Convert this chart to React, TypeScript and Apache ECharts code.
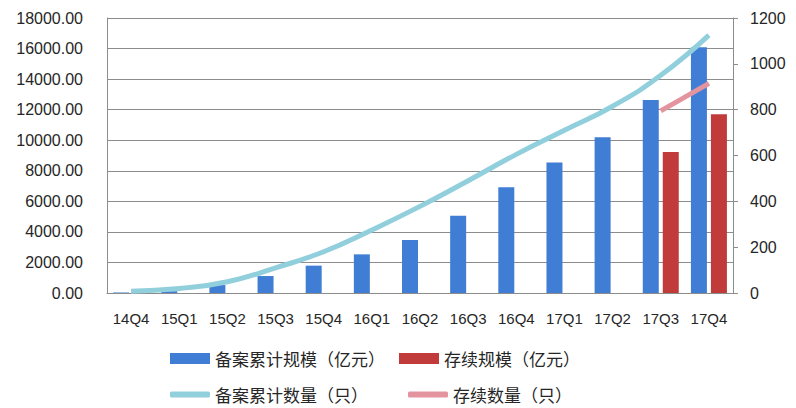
import React, { useEffect, useRef } from "react";
import * as echarts from "echarts";

const categories = ["14Q4", "15Q1", "15Q2", "15Q3", "15Q4", "16Q1", "16Q2", "16Q3", "16Q4", "17Q1", "17Q2", "17Q3", "17Q4"];
const filedScale = [30, 120, 520, 1110, 1790, 2530, 3470, 5060, 6920, 8550, 10190, 12630, 16080];
const activeScale = [null, null, null, null, null, null, null, null, null, null, null, 9230, 11700];
const filedCount = [8, 20, 49, 110, 180, 275, 378, 490, 605, 710, 815, 950, 1125];
const activeCount = [null, null, null, null, null, null, null, null, null, null, null, 795, 915];
const leftTicks = { min: 0, max: 18000, interval: 2000 };
const rightTicks = { min: 0, max: 1200, interval: 200 };
const names = ["备案累计规模（亿元）", "存续规模（亿元）", "备案累计数量（只）", "存续数量（只）"];

export default function App() {
  const ref = useRef<HTMLDivElement>(null);
  useEffect(() => {
    if (!ref.current) return;
    const chart = echarts.init(ref.current, null, { renderer: "svg" });
    const axisFont = { fontFamily: "Liberation Sans, Arial, sans-serif", fontSize: 16, color: "#262626" };
    const legendFont = { fontFamily: "Noto Sans CJK SC, sans-serif", fontSize: 17, color: "#262626" };
    chart.setOption({
      animation: false,
      backgroundColor: "#ffffff",
      grid: { left: 107, right: 63, top: 18, bottom: 115 },
      legend: [
        {
          data: [names[0], names[1]],
          left: 165,
          top: 345,
          itemWidth: 40,
          itemHeight: 11,
          itemGap: 14,
          icon: "rect",
          textStyle: legendFont,
        },
        {
          data: [names[2], names[3]],
          left: 165,
          top: 381,
          itemWidth: 40,
          itemHeight: 6,
          itemGap: 40,
          icon: "roundRect",
          textStyle: legendFont,
        },
      ],
      xAxis: {
        type: "category",
        data: categories,
        axisLine: { show: true, lineStyle: { color: "#8c8c8c", width: 1 } },
        axisTick: { show: false },
        axisLabel: { ...axisFont, fontSize: 15, margin: 18, interval: 0 },
      },
      yAxis: [
        {
          type: "value",
          ...leftTicks,
          axisLine: { show: true, lineStyle: { color: "#8c8c8c" } },
          axisTick: { show: false },
          axisLabel: { ...axisFont, margin: 24, formatter: (v: number) => v.toFixed(2) },
          splitLine: { show: true, lineStyle: { color: "#8c8c8c", width: 1 } },
        },
        {
          type: "value",
          ...rightTicks,
          position: "right",
          axisLine: { show: true, lineStyle: { color: "#8c8c8c" } },
          axisTick: { show: true, length: 5, lineStyle: { color: "#8c8c8c" } },
          axisLabel: { ...axisFont, margin: 17, formatter: (v: number) => String(v) },
          splitLine: { show: false },
        },
      ],
      series: [
        {
          name: names[0],
          type: "bar",
          data: filedScale,
          barWidth: 16,
          barGap: "25%",
          itemStyle: { color: "#3f7ed4" },
        },
        {
          name: names[1],
          type: "bar",
          data: activeScale,
          barWidth: 16,
          barGap: "25%",
          itemStyle: { color: "#c23b3b" },
        },
        {
          name: names[2],
          type: "line",
          yAxisIndex: 1,
          data: filedCount,
          smooth: true,
          showSymbol: false,
          symbol: "none",
          lineStyle: { color: "#92cfdc", width: 5 },
          itemStyle: { color: "#92cfdc" },
        },
        {
          name: names[3],
          type: "line",
          yAxisIndex: 1,
          data: activeCount,
          showSymbol: false,
          symbol: "none",
          lineStyle: { color: "#e3949f", width: 5 },
          itemStyle: { color: "#e3949f" },
        },
      ],
    });
    return () => chart.dispose();
  }, []);
  return <div ref={ref} style={{ width: 796, height: 408, position: "absolute", left: 0, top: 0 }} />;
}
